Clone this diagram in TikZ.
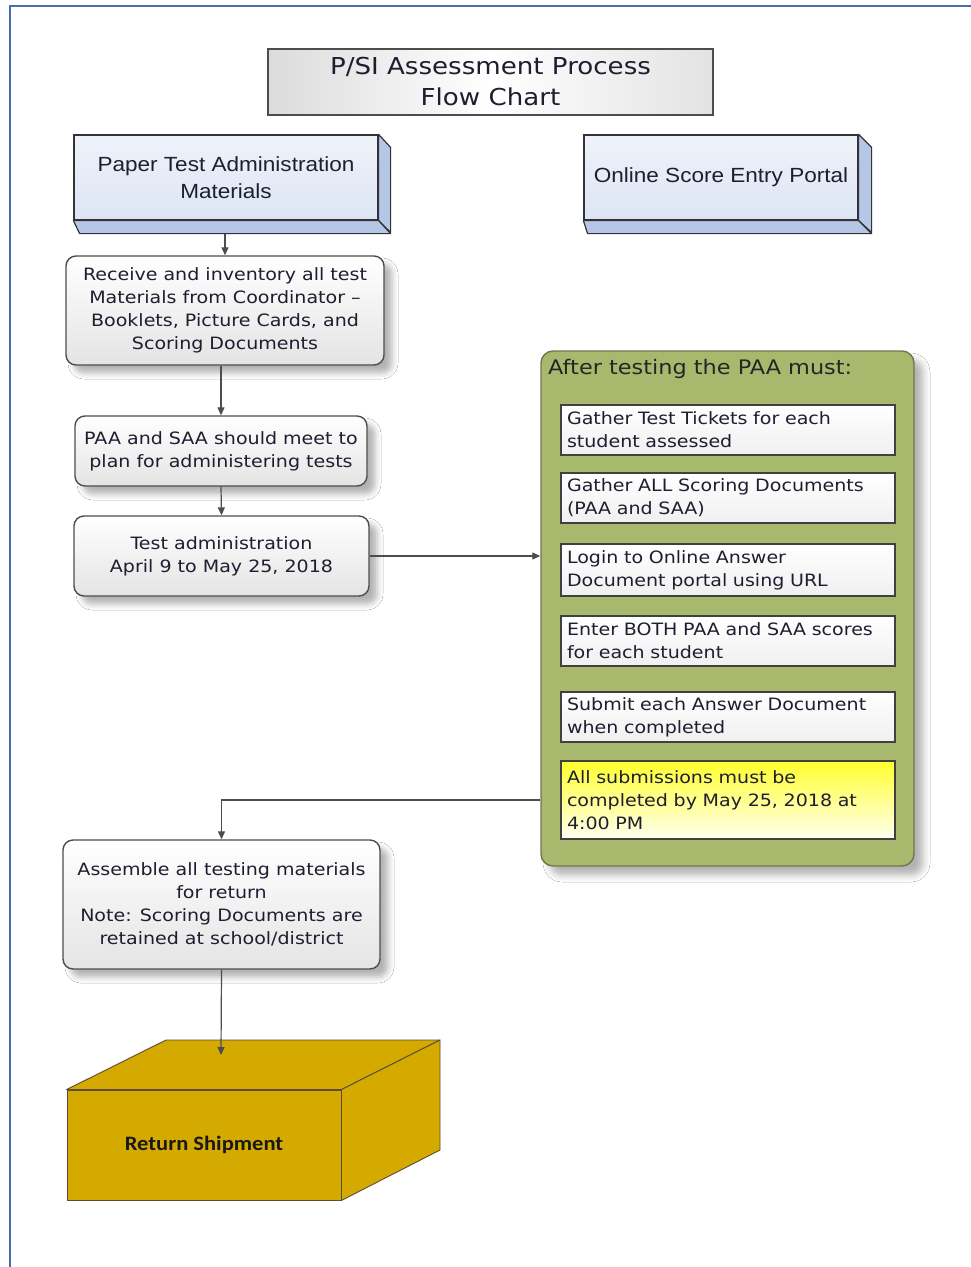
\documentclass[tikz,border=0pt]{standalone}
\usepackage{fontspec}
\setmainfont[FakeStretch=1.12]{DejaVu Sans}
\newfontfamily\arialf[FakeStretch=1.1]{Liberation Sans}
\newfontfamily\carlf[FakeStretch=1.1]{Carlito}
\usetikzlibrary{arrows.meta,shadows.blur}
\definecolor{framec}{HTML}{4A6CB0}
\definecolor{linec}{HTML}{4D4D4D}
\definecolor{textc}{HTML}{1E1E30}
\definecolor{boxgray}{HTML}{E4E4E4}
\definecolor{bluefront}{HTML}{DDE5F4}
\definecolor{bluelight}{HTML}{EEF2FA}
\definecolor{blueside}{HTML}{B5C6E6}
\definecolor{panelc}{HTML}{A8B86C}
\definecolor{panelb}{HTML}{6E7850}
\definecolor{yel}{HTML}{FFFF2E}
\definecolor{yelb}{HTML}{FFFFF0}
\definecolor{gold}{HTML}{D4A900}
\definecolor{goldb}{HTML}{5C4C38}
\newcommand\flowfnt{\fontsize{17}{23}\selectfont}
\newcommand\innerfnt{\fontsize{17}{23}\selectfont}
\begin{document}
\begin{tikzpicture}[x=1pt,y=-1pt,
  arr/.style={draw=linec, line width=1.2pt, -{Triangle[length=8pt,width=7pt]}},
  titlebox/.style={draw=linec, line width=1.2pt, left color=gray!28, right color=gray!22, middle color=white,
    align=center, font=\fontsize{23.3}{31}\selectfont, text=textc, inner sep=0pt},
  frontbox/.style={draw=black!80, line width=1.2pt, top color=bluelight, bottom color=bluefront,
    align=center, font=\arialf\fontsize{20.5}{27}\selectfont, text=textc, inner sep=0pt},
  sideface/.style={draw=black!80, line width=1.2pt, fill=blueside, line join=round},
  flowbox/.style={draw=linec, line width=1.4pt, rounded corners=10pt, top color=white, bottom color=boxgray,
    align=center, font=\flowfnt, text=textc, inner sep=0pt,
    blur shadow={shadow xshift=8pt, shadow yshift=-8pt, shadow blur radius=6pt, shadow opacity=30}},
  panel/.style={draw=panelb, line width=1.4pt, rounded corners=12pt, fill=panelc,
    blur shadow={shadow xshift=9pt, shadow yshift=-9pt, shadow blur radius=7pt, shadow opacity=30}},
  innerbox/.style={draw=black!75, line width=1.1pt, top color=white, bottom color=gray!12,
    minimum width=334pt, text width=322pt, align=left, font=\innerfnt, text=textc, inner sep=0pt},
  goldface/.style={draw=goldb, line width=0.9pt, fill=gold, line join=round}
]
\useasboundingbox (0,0) rectangle (971,1267);
\fill[white] (0,0) rectangle (971,1267);
\draw[framec, line width=2.2pt] (10,1267) -- (10,6) -- (971,6);

% title
\node[titlebox, minimum width=445pt, minimum height=66pt] (title) at (490.5,82) {P/SI Assessment Process\\Flow Chart};

% 3D header boxes
\node[frontbox, minimum width=304pt, minimum height=85pt] (paper) at (226,177.5) {Paper Test Administration\\Materials};
\draw[sideface] (paper.north east) -- ++(12,13) -- ++(0,85) -- (paper.south east) -- cycle;
\draw[sideface] (paper.south west) -- (paper.south east) -- ++(12,13) -- ++(-311,0) -- cycle;
\node[frontbox, minimum width=274pt, minimum height=85pt] (portal) at (721,177.5) {Online Score Entry Portal};
\draw[sideface] (portal.north east) -- ++(13,13) -- ++(0,85) -- (portal.south east) -- cycle;
\draw[sideface] (portal.south west) -- (portal.south east) -- ++(13,13) -- ++(-284,0) -- cycle;
\coordinate (paperbot) at (225,234);

% left flow
\node[flowbox, minimum width=318pt, minimum height=109pt] (receive) at (225,310.5)
  {Receive and inventory all test\\Materials from Coordinator –\\Booklets, Picture Cards, and\\Scoring Documents};
\node[flowbox, minimum width=292pt, minimum height=70pt] (plan) at (221,451)
  {PAA and SAA should meet to\\plan for administering tests};
\node[flowbox, minimum width=295pt, minimum height=80pt] (admin) at (221.5,556)
  {Test administration\\April 9 to May 25, 2018};

% panel
\node[panel, minimum width=373pt, minimum height=515pt] (panel) at (727.5,608.5) {};
\node[anchor=west, font=\fontsize{20}{23}\selectfont, text=black!85, inner sep=0pt] (hdr) at (548,369) {After testing the PAA must:};
\node[innerbox, minimum height=50pt] (b1) at (728,430) {Gather Test Tickets for each\\student assessed};
\node[innerbox, minimum height=50pt] (b2) at (728,498) {Gather ALL Scoring Documents\\(PAA and SAA)};
\node[innerbox, minimum height=52pt] (b3) at (728,570) {Login to Online Answer\\Document portal using URL};
\node[innerbox, minimum height=50pt] (b4) at (728,641) {Enter BOTH PAA and SAA scores\\for each student};
\node[innerbox, minimum height=50pt] (b5) at (728,717) {Submit each Answer Document\\when completed};
\node[innerbox, minimum height=78pt, top color=yel, bottom color=yelb] (b6) at (728,800) {All submissions must be\\completed by May 25, 2018 at\\4:00 PM};

% assemble
\node[flowbox, minimum width=317pt, minimum height=129pt] (assemble) at (221.5,904.5)
  {Assemble all testing materials\\for return\\Note: Scoring Documents are\\retained at school/district};

% shipment cuboid
\node[goldface, minimum width=274pt, minimum height=110pt, inner sep=0pt,
  font=\carlf\bfseries\fontsize{20.5}{23}\selectfont, text=black!90] (ship) at (204,1145) {Return Shipment};
\draw[goldface] (ship.north west) -- (166,1040) -- (440,1040) -- (ship.north east) -- cycle;
\draw[goldface] (ship.north east) -- (440,1040) -- (440,1150) -- (ship.south east) -- cycle;
\coordinate (shiptop) at (221,1055);

% connectors
\draw[arr] (paperbot) -- (receive.north);
\draw[arr] (receive.south -| plan.north) -- (plan.north);
\draw[arr] (plan.south) -- (admin.north);
\draw[arr] (admin.east) -- (panel.west |- admin.east);
\draw[arr] (panel.west |- b6.west) -| (assemble.north);
\draw[arr] (assemble.south) -- (shiptop);
\end{tikzpicture}
\end{document}
